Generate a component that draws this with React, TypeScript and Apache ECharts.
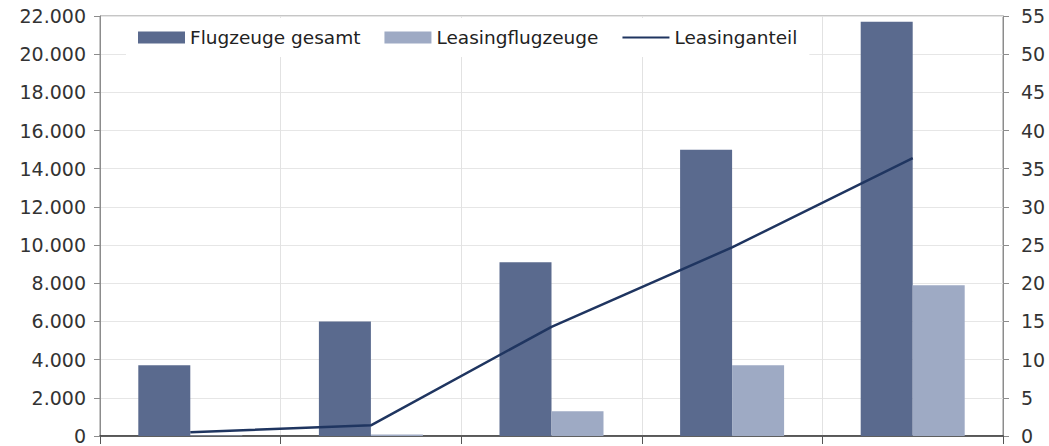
import React, { useEffect, useRef } from "react";
import * as echarts from "echarts";

// Stichjahre (Achsenbeschriftung ausgeblendet)
const years = ["1970", "1980", "1990", "2000", "2010"];
// Flotte insgesamt
const fleetTotal = [3700, 6000, 9100, 15000, 21700];
// davon geleast
const fleetLeased = [20, 80, 1300, 3700, 7900];
// Leasinganteil in Prozent
const leaseShare = [0.5, 1.4, 14.3, 24.7, 36.4];

const leftTicks = { min: 0, max: 22000, interval: 2000 };
const rightTicks = { min: 0, max: 55, interval: 5 };

const FONT = "DejaVu Sans";

const fmtThousands = (v: number) =>
  String(v).replace(/\B(?=(\d{3})+(?!\d))/g, ".");

export default function App() {
  const ref = useRef<HTMLDivElement>(null);

  useEffect(() => {
    if (!ref.current) return;
    const chart = echarts.init(ref.current, undefined, { renderer: "svg" });
    chart.setOption({
      animation: false,
      backgroundColor: "#ffffff",
      textStyle: { fontFamily: FONT },
      grid: {
        left: 100,
        right: 46,
        top: 16,
        bottom: 10,
        show: true,
        borderColor: "#8c8c8c",
        borderWidth: 1,
        backgroundColor: "transparent",
      },
      legend: {
        left: 126,
        top: 18,
        itemWidth: 47,
        itemHeight: 12,
        itemGap: 24,
        padding: [10, 12, 10, 12],
        backgroundColor: "#ffffff",
        textStyle: { fontFamily: FONT, fontSize: 18.5, color: "#222" },
        data: [
          { name: "Flugzeuge gesamt", icon: "rect" },
          { name: "Leasingflugzeuge", icon: "rect" },
          { name: "Leasinganteil", icon: "path://M0,0 L50,0 L50,2 L0,2 Z" },
        ],
      },
      xAxis: {
        type: "category",
        data: years,
        boundaryGap: true,
        axisLine: { lineStyle: { color: "#333", width: 1.5 } },
        axisTick: { show: true, length: 8, lineStyle: { color: "#555" } },
        axisLabel: { show: false },
        splitLine: { show: true, lineStyle: { color: "#e2e2e2" } },
      },
      yAxis: [
        {
          type: "value",
          ...leftTicks,
          position: "left",
          axisLine: { show: true, lineStyle: { color: "#8c8c8c" } },
          axisTick: { show: true, length: 6, lineStyle: { color: "#8c8c8c" } },
          axisLabel: {
            fontFamily: FONT,
            fontSize: 19,
            color: "#333",
            margin: 14,
            formatter: (v: number) => fmtThousands(v),
          },
          splitLine: { show: true, lineStyle: { color: "#e6e6e6" } },
        },
        {
          type: "value",
          ...rightTicks,
          position: "right",
          axisLine: { show: true, lineStyle: { color: "#8c8c8c" } },
          axisTick: { show: true, length: 6, lineStyle: { color: "#8c8c8c" } },
          axisLabel: {
            fontFamily: FONT,
            fontSize: 19,
            color: "#333",
            margin: 18,
          },
          splitLine: { show: false },
        },
      ],
      series: [
        {
          name: "Flugzeuge gesamt",
          type: "bar",
          yAxisIndex: 0,
          data: fleetTotal,
          barWidth: 52,
          barGap: "0%",
          itemStyle: { color: "#5a6a8e" },
        },
        {
          name: "Leasingflugzeuge",
          type: "bar",
          yAxisIndex: 0,
          data: fleetLeased,
          barWidth: 52,
          itemStyle: { color: "#9eaac4" },
        },
        {
          name: "Leasinganteil",
          type: "line",
          yAxisIndex: 1,
          data: leaseShare,
          symbol: "none",
          lineStyle: { color: "#1f3560", width: 2.5 },
          itemStyle: { color: "#1f3560" },
          z: 5,
        },
      ],
    });
    return () => chart.dispose();
  }, []);

  return (
    <div
      ref={ref}
      style={{ position: "absolute", left: 0, top: 0, width: 1049, height: 446 }}
    />
  );
}
